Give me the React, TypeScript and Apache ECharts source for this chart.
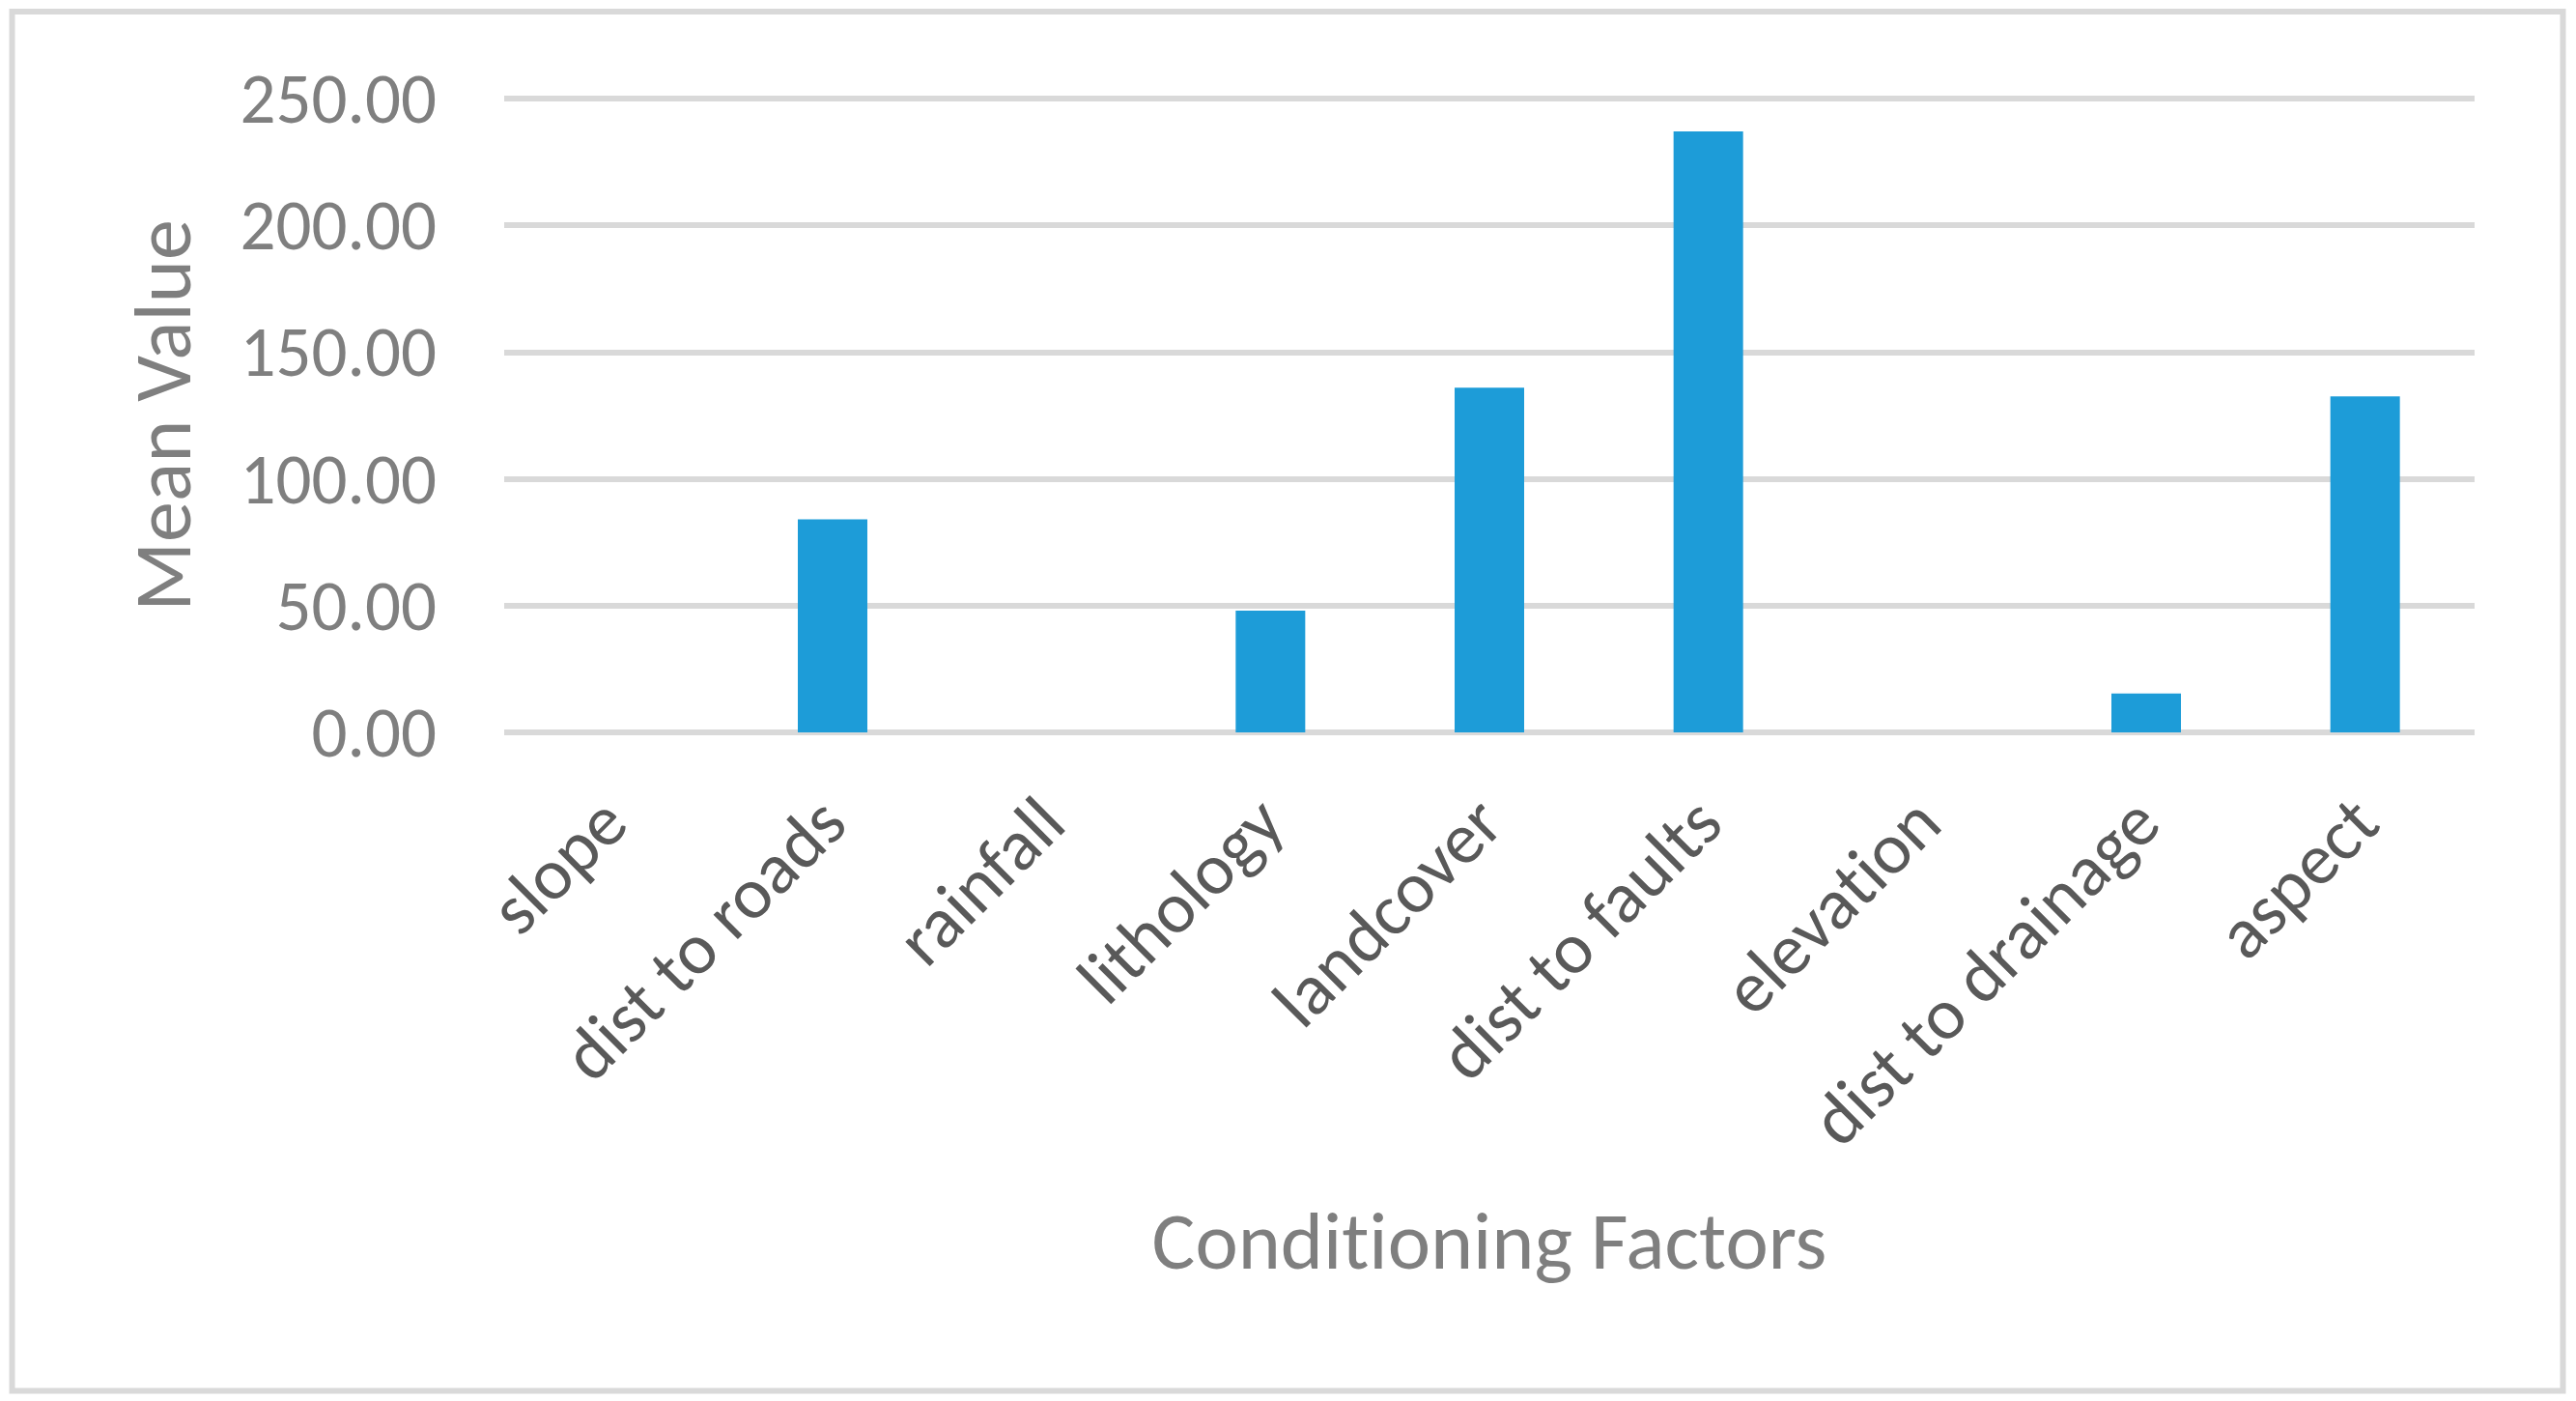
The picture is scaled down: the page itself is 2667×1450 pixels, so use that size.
import React, { useEffect, useRef } from "react";
import * as echarts from "echarts";

const categories = [
  "slope",
  "dist to roads",
  "rainfall",
  "lithology",
  "landcover",
  "dist to faults",
  "elevation",
  "dist to drainage",
  "aspect",
];
const meanValues = [0, 84, 0, 48, 136, 237, 0, 15.3, 132.5];
const yTicks = { min: 0, max: 250, interval: 50 };
const xTitle = "Conditioning Factors";
const yTitle = "Mean Value";

const FONT = "Carlito, Calibri, Lato, sans-serif";

export default function App() {
  const ref = useRef<HTMLDivElement>(null);
  useEffect(() => {
    if (!ref.current) return;
    const chart = echarts.init(ref.current, undefined, { renderer: "svg" });
    chart.setOption({
      animation: false,
      backgroundColor: "#ffffff",
      textStyle: { fontFamily: FONT },
      graphic: [
        {
          type: "rect",
          shape: { x: 12.5, y: 12, width: 2641, height: 1427.5 },
          style: { fill: "none", stroke: "#d9d9d9", lineWidth: 6 },
          silent: true,
        },
      ],
      grid: { left: 522, right: 105, top: 102, bottom: 692, containLabel: false },
      xAxis: {
        type: "category",
        data: categories,
        axisLine: { show: false },
        axisTick: { show: false },
        axisLabel: {
          rotate: 45,
          interval: 0,
          margin: 80,
          color: "#595959",
          fontSize: 75,
          fontFamily: FONT,
        },
        name: xTitle,
        nameLocation: "middle",
        nameGap: 484,
        nameTextStyle: { color: "#7f7f7f", fontSize: 84, fontFamily: FONT },
      },
      yAxis: {
        type: "value",
        min: yTicks.min,
        max: yTicks.max,
        interval: yTicks.interval,
        axisLine: { show: false },
        axisTick: { show: false },
        splitLine: { show: true, lineStyle: { color: "#d9d9d9", width: 6 } },
        axisLabel: {
          margin: 70,
          color: "#7f7f7f",
          fontSize: 73,
          fontFamily: FONT,
          formatter: (v: number) => v.toFixed(2),
        },
        name: yTitle,
        nameLocation: "middle",
        nameGap: 312,
        nameRotate: 90,
        nameTextStyle: { color: "#7f7f7f", fontSize: 84, fontFamily: FONT },
      },
      series: [
        {
          type: "bar",
          data: meanValues,
          barWidth: 72,
          itemStyle: { color: "#1d9cd8" },
        },
      ],
    });
    return () => chart.dispose();
  }, []);
  return (
    <div
      ref={ref}
      style={{
        position: "fixed",
        left: 0,
        top: 0,
        width: 2667,
        height: 1450,
        fontVariantLigatures: "none",
      }}
    />
  );
}
